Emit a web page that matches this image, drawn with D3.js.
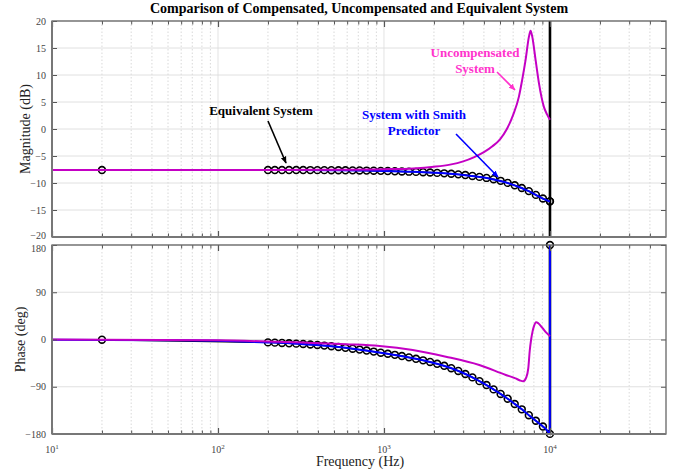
<!DOCTYPE html>
<html>
<head>
<meta charset="utf-8">
<script src="https://cdn.jsdelivr.net/npm/d3@7"></script>
<style>
  html, body { margin: 0; padding: 0; background: #fff; }
  svg { display: block; font-family: "Liberation Serif", "Times New Roman", serif; }
</style>
</head>
<body>
<svg id="chart" width="683" height="471"></svg>
<script>
// ---------------- DATA ----------------
const titleText = "Comparison of Compensated, Uncompensated and Equivalent System";
const xLabelText = "Frequency  (Hz)";
const magLabelText = "Magnitude (dB)";
const phaseLabelText = "Phase (deg)";

const freqDomain = [10, 50000];
const majorFreqTicks = [10, 100, 1000, 10000];
const majorFreqExp = ["1", "2", "3", "4"];
const minorFreqTicks = [20, 30, 40, 50, 60, 70, 80, 90,
  200, 300, 400, 500, 600, 700, 800, 900,
  2000, 3000, 4000, 5000, 6000, 7000, 8000, 9000,
  20000, 30000, 40000];
const magTicks = [-20, -15, -10, -5, 0, 5, 10, 15, 20];
const phaseTicks = [-180, -90, 0, 90, 180];
const markerLineFreq = 10000;

// Uncompensated system (magenta)
const uncompFreq = [10, 100, 500, 1000, 1500, 2000, 2500, 3000, 3500, 4000, 4500, 5000, 5500, 6000, 6500, 6800, 7130, 7470, 7640, 7820, 8190, 8580, 9190, 9600, 10000];
const uncompMag = [-7.6, -7.6, -7.55, -7.45, -7.3, -7.0, -6.6, -6.0, -5.2, -4.3, -3.2, -1.9, 0.0, 2.6, 6.0, 9.1, 12.8, 17.1, 18.2, 17.1, 12.8, 8.5, 4.1, 2.7, 1.7];
const uncompPhFreq = [10, 100, 235, 590, 940, 1490, 2360, 3750, 5420, 6200, 6600, 6900, 7200, 7400, 7560, 7700, 7850, 8000, 8250, 8500, 9000, 9500, 10000];
const uncompPhase = [0, -1.5, -4.5, -9, -12.4, -20, -32.7, -48.6, -67.6, -74, -78, -79.5, -72, -55, -20, 0, 15, 25, 33, 31, 22, 13, 6];

// System with Smith predictor (blue)
const compFreq = [10, 20, 50, 100, 200, 300, 500, 700, 1000, 1500, 2000, 2500, 3000, 3500, 4000, 4500, 5000, 5500, 6000, 6500, 7000, 7500, 8000, 8500, 9000, 9500, 9990, 10000];
const compMag = [-7.6, -7.6, -7.6, -7.6, -7.6, -7.6, -7.63, -7.67, -7.76, -7.92, -8.1, -8.28, -8.5, -8.74, -9.0, -9.3, -9.62, -9.95, -10.35, -10.75, -11.15, -11.55, -12.0, -12.45, -12.85, -13.15, -13.4, -13.4];
const compPhase = [-0.4, -0.8, -1.5, -2.6, -5.5, -8, -13.5, -18.9, -26, -35.7, -44.7, -53.9, -63.8, -73.9, -84, -93.6, -103, -111.8, -120.6, -128.6, -136.5, -144.8, -151.8, -158.4, -164.9, -171.2, -179.8, 180];

// Equivalent system (black circles)
const equivFreq = [20, 200, 220, 243, 268, 296, 326, 360, 397, 437, 482, 532, 586, 647, 713, 786, 867, 956, 1054, 1163, 1282, 1414, 1559, 1720, 1896, 2091, 2306, 2542, 2803, 3091, 3409, 3761, 4147, 4573, 5043, 5561, 6132, 6762, 7457, 8222, 9067, 9990, 10000];
const equivMag = [-7.6, -7.6, -7.6, -7.6, -7.6, -7.6, -7.6, -7.61, -7.62, -7.62, -7.63, -7.64, -7.65, -7.66, -7.68, -7.70, -7.72, -7.75, -7.79, -7.83, -7.87, -7.90, -7.94, -8.0, -8.06, -8.13, -8.21, -8.29, -8.4, -8.53, -8.69, -8.87, -9.06, -9.3, -9.6, -9.98, -10.43, -10.93, -11.5, -12.2, -12.87, -13.4, -13.4];
const equivPhase = [-0.4, -5.5, -6, -6.6, -7.2, -7.9, -8.6, -9.5, -10.5, -11.6, -12.9, -14.3, -15.9, -17.5, -19.2, -21.0, -23.0, -25.1, -27.1, -29.2, -31.5, -34.0, -36.8, -39.7, -42.8, -46.3, -50.1, -54.7, -59.9, -65.7, -72.2, -79.3, -86.8, -95.0, -103.7, -112.8, -122.9, -133.0, -144.2, -154.8, -165.8, -179.8, 180];

// Annotations
const annUncomp = ["Uncompensated", "System"];
const annEquiv = ["Equivalent System"];
const annSmith = ["System with Smith", "Predictor"];

// ---------------- CHART ----------------
const svg = d3.select("#chart");
const left = 52, right = 666;
const magTop = 21, magBottom = 237;
const phTop = 245, phBottom = 434;

const x = d3.scaleLog().domain(freqDomain).range([left, right]);
const yMag = d3.scaleLinear().domain([-20, 20]).range([magBottom, magTop]);
const yPh = d3.scaleLinear().domain([-180, 180]).range([phBottom, phTop]);

const colMagenta = "#c400c4";
const colBlue = "#0000ff";
const colPink = "#ff33cc";
const gridCol = "#dcdcdc";
const axisCol = "#555";

const defs = svg.append("defs");
function arrowMarker(id, color) {
  defs.append("marker").attr("id", id).attr("viewBox", "0 0 10 10")
    .attr("refX", 9).attr("refY", 5).attr("markerWidth", 7).attr("markerHeight", 7)
    .attr("markerUnits", "userSpaceOnUse").attr("orient", "auto")
    .append("path").attr("d", "M0,1 L10,5 L0,9 Z").attr("fill", color);
}
arrowMarker("arrBlack", "#000");
arrowMarker("arrBlue", colBlue);
arrowMarker("arrPink", colPink);

function panel(y, top, bottom, yTicks, showXLabels, labelNudge) {
  const g = svg.append("g");
  // grid
  g.selectAll(".vminor").data(minorFreqTicks.filter(f => f <= freqDomain[1])).enter().append("line")
    .attr("x1", d => x(d)).attr("x2", d => x(d)).attr("y1", top).attr("y2", bottom)
    .attr("stroke", "#cfcfcf").attr("stroke-width", 0.8).attr("stroke-dasharray", "1.5,2");
  g.selectAll(".vmajor").data(majorFreqTicks).enter().append("line")
    .attr("x1", d => x(d)).attr("x2", d => x(d)).attr("y1", top).attr("y2", bottom)
    .attr("stroke", gridCol).attr("stroke-width", 0.8);
  g.selectAll(".hgrid").data(yTicks).enter().append("line")
    .attr("x1", left).attr("x2", right).attr("y1", d => y(d)).attr("y2", d => y(d))
    .attr("stroke", gridCol).attr("stroke-width", 0.9);

  // axes (ticks inward)
  const ax = svg.append("g").attr("class", "axes");
  ax.append("g").attr("transform", `translate(${left},0)`)
    .call(d3.axisLeft(y).tickValues(yTicks).tickSize(-5).tickPadding(6).tickFormat(d3.format("d")))
    .call(s => s.select(".domain").remove())
    .call(s => s.selectAll("line").attr("stroke", axisCol))
    .call(s => s.selectAll("text").attr("fill", "#444").style("font-size", "10px")
      .style("font-family", "'Liberation Serif', serif")
      .attr("dy", d => labelNudge(d)));
  ax.append("g").attr("transform", `translate(${right},0)`)
    .call(d3.axisRight(y).tickValues(yTicks).tickSize(-5).tickFormat(""))
    .call(s => s.select(".domain").remove())
    .call(s => s.selectAll("line").attr("stroke", axisCol));
  [[top, d3.axisTop], [bottom, d3.axisBottom]].forEach(([yy, fn]) => {
    ax.append("g").attr("transform", `translate(0,${yy})`)
      .call(fn(x).tickValues(minorFreqTicks).tickSize(-3.5).tickFormat(""))
      .call(s => s.select(".domain").remove())
      .call(s => s.selectAll("line").attr("stroke", axisCol));
    ax.append("g").attr("transform", `translate(0,${yy})`)
      .call(fn(x).tickValues(majorFreqTicks).tickSize(-6).tickFormat(""))
      .call(s => s.select(".domain").remove())
      .call(s => s.selectAll("line").attr("stroke", axisCol).attr("stroke-width", 1.2));
  });
  ax.append("rect").attr("x", left).attr("y", top).attr("width", right - left).attr("height", bottom - top)
    .attr("fill", "none").attr("stroke", "#666").attr("stroke-width", 1.3);
  ax.append("line").attr("x1", left).attr("x2", left).attr("y1", top).attr("y2", bottom)
    .attr("stroke", "#777").attr("stroke-width", 2);
  ax.append("line").attr("x1", left).attr("x2", right).attr("y1", bottom).attr("y2", bottom)
    .attr("stroke", "#777").attr("stroke-width", 2);

  if (showXLabels) {
    const lab = svg.append("g");
    majorFreqTicks.forEach((f, i) => {
      const t = lab.append("text").attr("x", x(f)).attr("y", bottom + 19)
        .attr("text-anchor", "middle").attr("fill", "#444").style("font-size", "10px");
      t.append("tspan").text("10");
      t.append("tspan").text(majorFreqExp[i]).attr("dy", -4).style("font-size", "7px");
    });
  }
  return g;
}

panel(yMag, magTop, magBottom, magTicks, false, d => d === -20 ? "0.1em" : "0.32em");
panel(yPh, phTop, phBottom, phaseTicks, true, d => d === 180 ? "0.62em" : "0.32em");

const lineGen = (yS) => d3.line().x(d => x(d[0])).y(d => yS(d[1])).curve(d3.curveMonotoneX);
const zip = (a, b) => a.map((v, i) => [v, b[i]]);

const plots = svg.append("g");
function drawSeries(yS, top, bottom, eqVals, compVals, uFreq, uVals) {
  const eqData = zip(equivFreq, eqVals);
  plots.append("path").datum(eqData).attr("d", d3.line().x(d => x(d[0])).y(d => yS(d[1])))
    .attr("fill", "none").attr("stroke", "#000").attr("stroke-width", 1.4);
  plots.append("g").selectAll("circle").data(eqData).enter().append("circle")
    .attr("cx", d => x(d[0])).attr("cy", d => yS(d[1])).attr("r", 3.4)
    .attr("fill", "none").attr("stroke", "#000").attr("stroke-width", 1.6);
  // black vertical line at 10^4
  plots.append("line").attr("x1", x(markerLineFreq)).attr("x2", x(markerLineFreq))
    .attr("y1", top).attr("y2", bottom).attr("stroke", "#000").attr("stroke-width", 2.6);
  const cData = zip(compFreq, compVals);
  plots.append("path").datum(cData).attr("d", lineGen(yS))
    .attr("fill", "none").attr("stroke", colBlue).attr("stroke-width", 2);
  plots.append("path").datum(zip(uFreq, uVals)).attr("d", lineGen(yS))
    .attr("fill", "none").attr("stroke", colMagenta).attr("stroke-width", 2);
}
drawSeries(yMag, magTop, magBottom, equivMag, compMag, uncompFreq, uncompMag);
drawSeries(yPh, yPh(-180), yPh(180), equivPhase, compPhase, uncompPhFreq, uncompPhase);

// raise axes above plots
svg.selectAll(".axes").raise();

// Titles and labels
svg.append("text").attr("x", 359).attr("y", 13).attr("text-anchor", "middle")
  .style("font-size", "14px").style("font-weight", "bold").text(titleText);
svg.append("text").attr("x", 360).attr("y", 466).attr("text-anchor", "middle")
  .style("font-size", "14px").attr("fill", "#222").text(xLabelText);
svg.append("text").attr("transform", `translate(30,${(magTop + magBottom) / 2}) rotate(-90)`)
  .attr("text-anchor", "middle").style("font-size", "14px").attr("fill", "#222").text(magLabelText);
svg.append("text").attr("transform", `translate(25,${(phTop + phBottom) / 2}) rotate(-90)`)
  .attr("text-anchor", "middle").style("font-size", "14px").attr("fill", "#222").text(phaseLabelText);

// Annotations
function annText(lines, cx, y0, color) {
  const t = svg.append("text").attr("text-anchor", "middle").attr("fill", color)
    .style("font-size", "13px").style("font-weight", "bold");
  lines.forEach((l, i) => t.append("tspan").attr("x", cx).attr("y", y0 + i * 16).text(l));
}
function arrow(x1, y1, x2, y2, color, id) {
  svg.append("line").attr("x1", x1).attr("y1", y1).attr("x2", x2).attr("y2", y2)
    .attr("stroke", color).attr("stroke-width", 1.6).attr("marker-end", `url(#${id})`);
}
annText(annUncomp, 475, 57, colPink);
arrow(497, 72, 515, 90, colPink, "arrPink");
annText(annEquiv, 261, 115, "#000");
arrow(268, 121, 286, 163, "#000", "arrBlack");
annText(annSmith, 414, 119, colBlue);
arrow(456, 134, 498, 177, colBlue, "arrBlue");
</script>
</body>
</html>
